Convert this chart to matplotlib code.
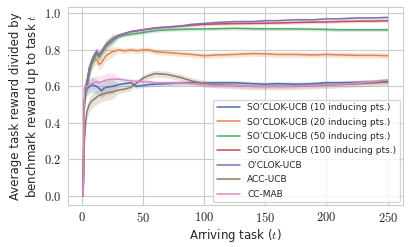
import matplotlib
matplotlib.use("Agg")
import matplotlib.pyplot as plt
import seaborn as sns
from matplotlib.ticker import FuncFormatter

# sampled arriving tasks
tasks = [1, 2, 3, 4, 5, 6, 7, 8, 10, 12, 14, 16, 18, 20, 25, 30, 35, 40, 45, 50,
         55, 60, 70, 80, 90, 100, 110, 125, 140, 150, 160, 175, 190, 200, 210, 225, 240, 250]

so10 = [0.0, 0.50, 0.57, 0.59, 0.59, 0.60, 0.60, 0.61, 0.605, 0.60, 0.59, 0.575, 0.59, 0.595,
        0.60, 0.61, 0.615, 0.62, 0.60, 0.605, 0.61, 0.612, 0.615, 0.62, 0.62, 0.618, 0.62, 0.62,
        0.615, 0.612, 0.615, 0.612, 0.615, 0.62, 0.62, 0.622, 0.625, 0.625]
so20 = [0.0, 0.50, 0.58, 0.62, 0.65, 0.68, 0.70, 0.72, 0.74, 0.75, 0.72, 0.73, 0.75, 0.77,
        0.79, 0.80, 0.795, 0.80, 0.795, 0.80, 0.80, 0.79, 0.785, 0.78, 0.775, 0.768, 0.772, 0.775,
        0.78, 0.778, 0.775, 0.775, 0.772, 0.775, 0.773, 0.77, 0.77, 0.768]
so50 = [0.0, 0.50, 0.55, 0.58, 0.62, 0.66, 0.69, 0.72, 0.75, 0.78, 0.76, 0.78, 0.80, 0.82,
        0.85, 0.87, 0.88, 0.885, 0.89, 0.895, 0.90, 0.905, 0.91, 0.912, 0.914, 0.915, 0.916, 0.918,
        0.916, 0.915, 0.915, 0.915, 0.913, 0.912, 0.91, 0.91, 0.91, 0.91]
so100 = [0.0, 0.52, 0.60, 0.62, 0.66, 0.70, 0.72, 0.74, 0.77, 0.79, 0.77, 0.79, 0.81, 0.83,
         0.86, 0.88, 0.89, 0.90, 0.905, 0.91, 0.915, 0.92, 0.925, 0.93, 0.935, 0.94, 0.942, 0.944,
         0.945, 0.946, 0.947, 0.95, 0.952, 0.953, 0.955, 0.957, 0.958, 0.96]
oclok = [0.0, 0.52, 0.60, 0.62, 0.66, 0.70, 0.72, 0.74, 0.77, 0.79, 0.77, 0.79, 0.81, 0.83,
         0.86, 0.88, 0.89, 0.90, 0.905, 0.91, 0.915, 0.92, 0.925, 0.93, 0.94, 0.945, 0.95, 0.955,
         0.955, 0.96, 0.96, 0.965, 0.965, 0.97, 0.97, 0.975, 0.975, 0.978]
acc = [0.0, 0.30, 0.40, 0.46, 0.48, 0.50, 0.51, 0.52, 0.53, 0.54, 0.55, 0.555, 0.56, 0.565,
       0.57, 0.58, 0.585, 0.595, 0.62, 0.645, 0.66, 0.67, 0.665, 0.65, 0.63, 0.615, 0.61, 0.605,
       0.60, 0.60, 0.60, 0.60, 0.605, 0.607, 0.61, 0.615, 0.62, 0.625]
ccmab = [0.0, 0.59, 0.60, 0.60, 0.605, 0.61, 0.61, 0.615, 0.62, 0.625, 0.62, 0.625, 0.63, 0.635,
         0.64, 0.64, 0.635, 0.63, 0.628, 0.625, 0.625, 0.62, 0.62, 0.62, 0.615, 0.61, 0.605, 0.605,
         0.60, 0.60, 0.60, 0.602, 0.605, 0.61, 0.612, 0.618, 0.628, 0.635]

# half-width of shaded band (early / late)
band_early = [0.04, 0.03, 0.025, 0.025, 0.02, 0.04, 0.035]
band_late = [0.012, 0.015, 0.01, 0.008, 0.008, 0.018, 0.012]

labels = ["SO\u2019CLOK-UCB (10 inducing pts.)", "SO\u2019CLOK-UCB (20 inducing pts.)",
          "SO\u2019CLOK-UCB (50 inducing pts.)", "SO\u2019CLOK-UCB (100 inducing pts.)",
          "O\u2019CLOK-UCB", "ACC-UCB", "CC-MAB"]
series = [so10, so20, so50, so100, oclok, acc, ccmab]

sns.set_style("whitegrid")
plt.rcParams["font.family"] = ["DejaVu Sans"]
plt.rcParams["mathtext.fontset"] = "cm"

colors = sns.color_palette("deep")[:7]

fig, ax = plt.subplots(figsize=(4.09, 2.47), dpi=100)

for vals, lab, col, be, bl in zip(series, labels, colors, band_early, band_late):
    width = [be if t < 30 else bl for t in tasks]
    width[0] = 0.0
    lo = [v - w for v, w in zip(vals, width)]
    hi = [v + w for v, w in zip(vals, width)]
    ax.fill_between(tasks, lo, hi, color=col, alpha=0.22, linewidth=0)
    ax.plot(tasks, vals, color=col, linewidth=1.1, label=lab)

ax.set_xticks([0, 50, 100, 150, 200, 250])
ax.set_yticks([0.0, 0.2, 0.4, 0.6, 0.8, 1.0])
ax.xaxis.set_major_formatter(FuncFormatter(lambda v, p: f"${v:.0f}$"))
ax.yaxis.set_major_formatter(FuncFormatter(lambda v, p: f"${v:.1f}$"))
ax.tick_params(labelsize=9, pad=1)

ax.set_xlabel("Arriving task ($t$)", fontsize=8.5, labelpad=1)
ax.set_ylabel("Average task reward divided by\nbenchmark reward up to task $t$",
              fontsize=8.5, labelpad=2)

leg = ax.legend(loc="lower right", fontsize=6.5, frameon=True, borderaxespad=0.3,
                labelspacing=0.6, handlelength=2.6, borderpad=0.4)
leg.get_frame().set_edgecolor("#cccccc")

fig.subplots_adjust(left=0.166, right=0.985, bottom=0.17, top=0.972)
fig.savefig("out.png", dpi=100)
